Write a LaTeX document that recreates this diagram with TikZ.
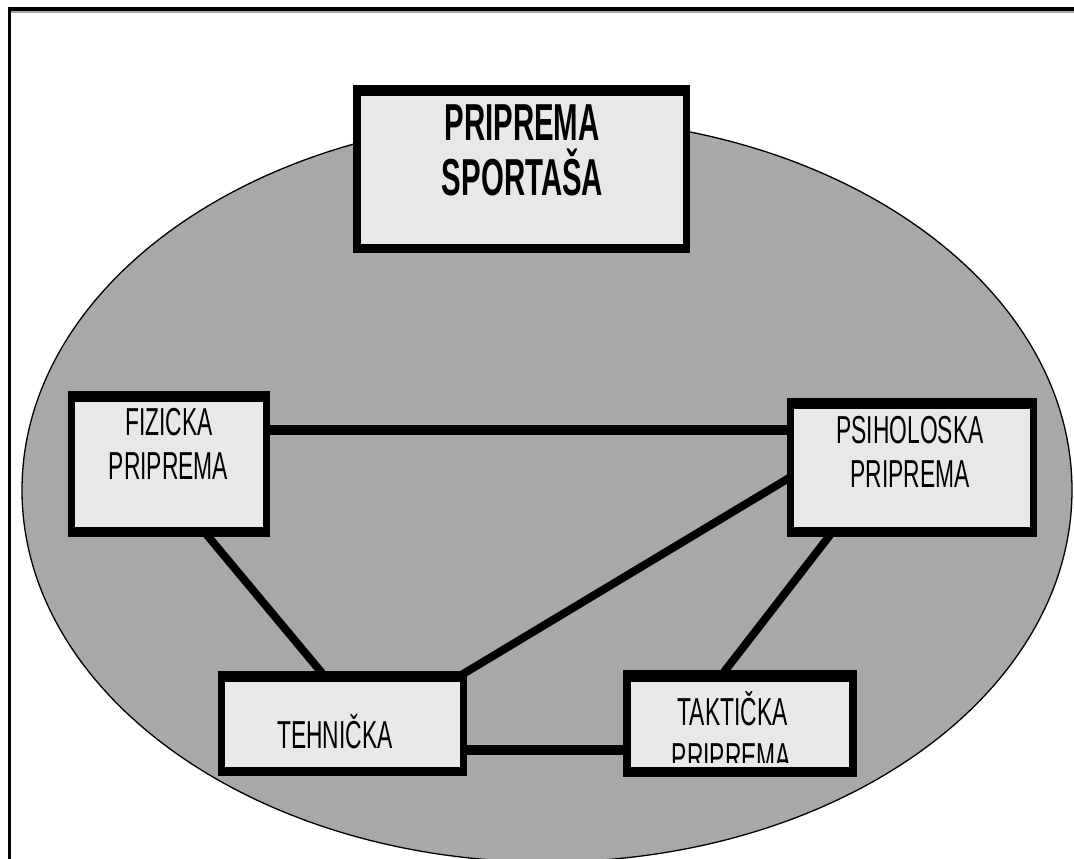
\documentclass[tikz,border=0pt]{standalone}
\usepackage{fontspec}
\newfontfamily\boxfont[FakeStretch=0.585]{Liberation Sans}
\newfontfamily\titlefont[FakeStretch=0.565]{Liberation Sans Bold}
\usetikzlibrary{calc}
\definecolor{ellgray}{RGB}{168,168,168}
\definecolor{boxgray}{RGB}{232,232,232}
\begin{document}
\begin{tikzpicture}[x=1pt,y=-1pt,
  outbox/.style={fill=black, inner sep=0pt, outer sep=0pt},
  innerfill/.style={fill=boxgray},
  conn/.style={line width=8pt, draw=black},
  connh/.style={line width=10pt, draw=black},
  lbl/.style={inner sep=0pt, anchor=base, font=\boxfont\fontsize{39}{39}\selectfont},
  ttl/.style={inner sep=0pt, anchor=base, font=\titlefont\fontsize{52}{52}\selectfont},
  ellstyle/.style={fill=ellgray, draw=black, line width=1.3pt}]
\useasboundingbox (0,0) rectangle (1074,859);
\clip (0,0) rectangle (1074,859);
% white background
\fill[white] (0,0) rectangle (1074,859);
% ellipse
\path[ellstyle] (547,490) ellipse [x radius=525, y radius=372];
% frame
\draw[gray!70, line width=2pt] (10,12.5) -- (1074,12.5);
\draw[black, line width=4pt] (7.5,9) -- (1074,9);
\draw[black, line width=2.6pt] (9.3,7) -- (9.3,859);
% boxes (outer black)
\node[outbox, minimum width=337pt, minimum height=168pt] (top) at (521.5,169) {};
\node[outbox, minimum width=202pt, minimum height=146pt] (fiz) at (169,464) {};
\node[outbox, minimum width=250pt, minimum height=139pt] (psi) at (912,467.5) {};
\node[outbox, minimum width=249pt, minimum height=105pt] (teh) at (342.5,723.5) {};
\node[outbox, minimum width=234pt, minimum height=107pt] (tak) at (740,723.5) {};
% connectors
\draw[connh] ($(fiz.north east)+(-2,39)$) coordinate (c1) -- (c1 -| psi.west);
\draw[conn] ($(fiz.south west)+(139,-2)$) -- ($(teh.north west)+(104,2)$);
\draw[conn] ($(teh.north east)+(-4,3)$) -- ($(psi.north west)+(2,80)$);
\draw[conn] ($(psi.south west)+(43,-2)$) -- ($(tak.north west)+(101,2)$);
\draw[connh] ($(teh.north east)+(-2,79)$) coordinate (c5) -- (c5 -| tak.west);
% redraw boxes over connectors
\node[outbox, minimum width=337pt, minimum height=168pt] at (top) {};
\node[outbox, minimum width=202pt, minimum height=146pt] at (fiz) {};
\node[outbox, minimum width=250pt, minimum height=139pt] at (psi) {};
\node[outbox, minimum width=249pt, minimum height=105pt] at (teh) {};
\node[outbox, minimum width=234pt, minimum height=107pt] at (tak) {};
% inner fills
\fill[innerfill] ($(top.north west)+(8,11)$) rectangle ($(top.south east)+(-7,-9)$);
\fill[innerfill] ($(fiz.north west)+(7,11)$) rectangle ($(fiz.south east)+(-7,-10)$);
\fill[innerfill] ($(psi.north west)+(7,11)$) rectangle ($(psi.south east)+(-7,-10)$);
\fill[innerfill] ($(teh.north west)+(7,11)$) rectangle ($(teh.south east)+(-7,-9)$);
\fill[innerfill] ($(tak.north west)+(8,12)$) rectangle ($(tak.south east)+(-8,-10)$);
% texts
\node[ttl] (top1) at (522,140) {PRIPREMA};
\node[ttl] (top2) at (522.5,195) {SPORTAŠA};
\node[lbl] (fiz1) at (169,435) {FIZICKA};
\node[lbl] (fiz2) at (168.5,479) {PRIPREMA};
\node[lbl] (psi1) at (910,443) {PSIHOLOSKA};
\node[lbl] (psi2) at (910,487) {PRIPREMA};
\node[lbl] (teh1) at (335,748) {TEHNIČKA};
\node[lbl] (tak1) at (732.5,725) {TAKTIČKA};
\begin{scope}
  \clip ($(tak.north west)+(8,12)$) rectangle (849,762);
  \node[lbl] (tak2) at (731.5,770) {PRIPREMA};
\end{scope}
\end{tikzpicture}
\end{document}
